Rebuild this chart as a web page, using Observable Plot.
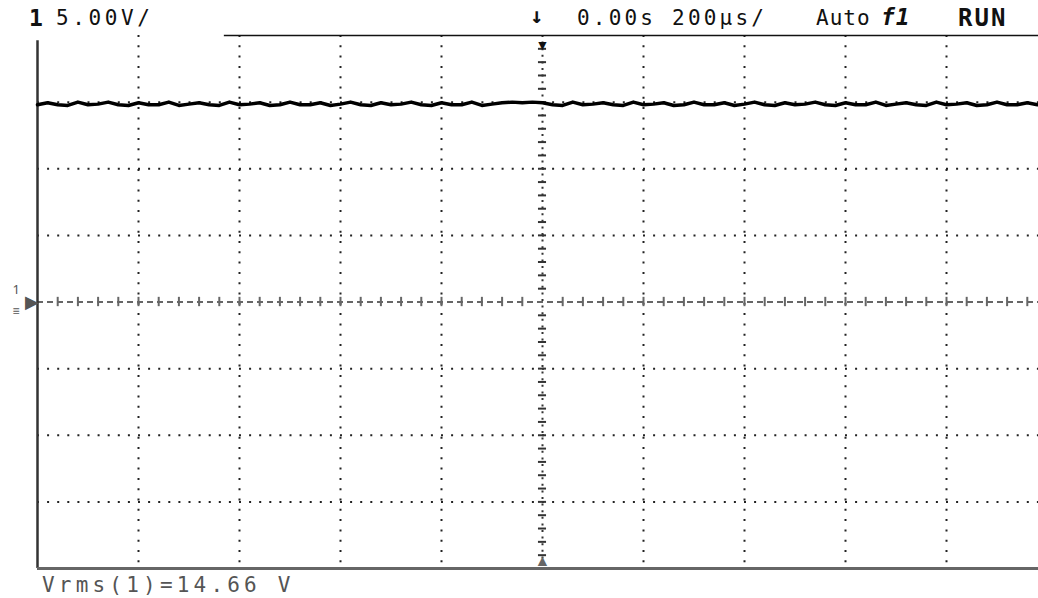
<!DOCTYPE html>
<html>
<head>
<meta charset="utf-8">
<script src="https://cdn.jsdelivr.net/npm/d3@7"></script>
<script src="https://cdn.jsdelivr.net/npm/@observablehq/plot@0.6"></script>
<style>
  html, body { margin: 0; padding: 0; background: #fff; overflow: hidden; width: 1038px; height: 598px; }
  #wrap { position: relative; width: 1038px; height: 598px; }
  .lbl { position: absolute; font-family: "DejaVu Sans Mono", monospace; color: #111; white-space: pre; line-height: 1; }
  #header { position: relative; height: 30px; }
  #footer { position: relative; height: 27px; }
</style>
</head>
<body>
<div id="wrap">
  <div id="header">
    <span class="lbl" style="left:29px; top:7px; font-size:23px; font-weight:bold;">1</span>
    <span class="lbl" style="left:56px; top:8px; font-size:21px; letter-spacing:3.6px;">5.00V/</span>
    <span class="lbl" style="left:530px; top:5px; font-size:22px; font-weight:bold;">↓</span>
    <span class="lbl" style="left:577px; top:8px; font-size:21px; letter-spacing:3.2px;">0.00s 200µs/</span>
    <span class="lbl" style="left:816px; top:8px; font-size:21px; letter-spacing:1px;">Auto</span>
    <span class="lbl" style="left:881px; top:6px; font-size:23px; font-weight:bold; font-style:italic; letter-spacing:1px;">f1</span>
    <span class="lbl" style="left:958px; top:6px; font-size:24px; font-weight:bold; letter-spacing:2px;">RUN</span>
  </div>
  <div id="chart"></div>
  <div id="footer">
    <span class="lbl" style="left:42px; top:4px; font-size:21px; letter-spacing:4.2px; color:#555;">Vrms(1)=14.66 V</span>
  </div>
</div>
<script>
// Oscilloscope settings (5.00 V/div, 200 µs/div, 10 x 8 divisions)
const voltsPerDiv = 5;
const usPerDiv = 200;

// Major graticule positions (dotted)
const gridX = [-800, -600, -400, -200, 200, 400, 600, 800];   // µs
const gridY = [-15, -10, -5, 5, 10, 15];                         // V

// Channel 1 trace samples (V), one every 20 µs from -1000 µs
const traceValues = [
  14.8, 14.95, 14.8, 14.75, 15.0, 14.8, 14.85, 15.0, 14.8, 14.75,
  14.95, 14.8, 14.8, 15.0, 14.75, 14.85, 14.95, 14.8, 14.75, 15.0,
  14.8, 14.85, 14.95, 14.75, 14.8, 15.0, 14.8, 14.8, 14.95, 14.75,
  14.85, 15.0, 14.8, 14.75, 14.95, 14.8, 14.85, 15.0, 14.8, 14.75,
  14.95, 14.8, 14.8, 15.0, 14.75, 14.85, 14.95, 15.0, 14.95, 15.0,
  14.95, 14.8, 14.75, 15.0, 14.8, 14.85, 14.95, 14.8, 14.75, 15.0,
  14.8, 14.85, 14.95, 14.75, 14.8, 15.0, 14.8, 14.8, 14.95, 14.75,
  14.85, 15.0, 14.8, 14.75, 14.95, 14.8, 14.85, 15.0, 14.8, 14.75,
  14.95, 14.8, 14.8, 15.0, 14.75, 14.85, 14.95, 14.8, 14.75, 15.0,
  14.8, 14.85, 14.95, 14.75, 14.8, 15.0, 14.8, 14.8, 14.95, 14.8
];
const traceStart = -1000, traceStep = 20;
const trace = traceValues.map((v, i) => ({t: traceStart + i * traceStep, v}));

// Minor graticule ticks on the centre axes (1/5 division)
const minorX = d3.range(-960, 1000, usPerDiv / 5).filter(d => d !== 0);
const minorY = d3.range(-19, 20, voltsPerDiv / 5).filter(d => d !== 0);

// Where the top border line begins
const topBorderFrom = -630;

const xDomain = [-5 * usPerDiv, 5 * usPerDiv];
const yDomain = [-4 * voltsPerDiv, 4 * voltsPerDiv];

const plot = Plot.plot({
  width: 1038,
  height: 541,
  marginLeft: 37,
  marginRight: -9,
  marginTop: 5,
  marginBottom: 3,
  style: {overflow: "hidden", background: "#fff"},
  x: {domain: xDomain, axis: null},
  y: {domain: yDomain, axis: null},
  marks: [
    // dotted major grid
    Plot.ruleX(gridX, {x: d => d, stroke: "#222", strokeWidth: 2, strokeDasharray: "2,8.3"}),
    Plot.ruleY(gridY, {y: d => d, stroke: "#222", strokeWidth: 2, strokeDasharray: "2,8.1"}),
    // centre vertical axis with minor ticks
    Plot.ruleX([0], {x: d => d, stroke: "#333", strokeWidth: 2, strokeDasharray: "2,4.6"}),
    Plot.ruleY(minorY, {y: d => d, x1: -8, x2: 8, stroke: "#333", strokeWidth: 2}),
    // centre horizontal axis with minor ticks
    Plot.ruleY([0], {y: d => d, stroke: "#666", strokeWidth: 2, strokeDasharray: "6,4"}),
    Plot.ruleX(minorX, {x: d => d, y1: -0.35, y2: 0.35, stroke: "#666", strokeWidth: 2}),
    // frame: left, bottom, top
    Plot.ruleX([xDomain[0]], {x: d => d, y1: yDomain[0], y2: 19.6, stroke: "#333", strokeWidth: 2.5}),
    Plot.ruleY([yDomain[0]], {y: d => d, stroke: "#666", strokeWidth: 3}),
    Plot.ruleY([yDomain[1]], {y: d => d, x1: topBorderFrom, x2: xDomain[1], stroke: "#111", strokeWidth: 1.5}),
    // trigger position markers
    Plot.text([0], {x: d => d, frameAnchor: "top", text: () => "▼", fontSize: 14, fill: "#111", dy: 5}),
    Plot.text([0], {x: d => d, frameAnchor: "bottom", text: () => "▲", fontSize: 16, fill: "#666", dy: -3}),
    // channel 1 ground marker
    Plot.text([0], {y: d => d, frameAnchor: "left", text: () => "▶", fontSize: 18, fill: "#555", dx: -13}),
    Plot.text([0], {y: d => d, frameAnchor: "left", text: () => "1", fontSize: 13, fill: "#555", dx: -25, dy: -12}),
    Plot.text([0], {y: d => d, frameAnchor: "left", text: () => "≡", fontSize: 12, fill: "#555", dx: -25, dy: 9}),
    // channel 1 trace
    Plot.line(trace, {x: "t", y: "v", stroke: "#000", strokeWidth: 3.5})
  ]
});
document.getElementById("chart").appendChild(plot);
</script>
</body>
</html>
